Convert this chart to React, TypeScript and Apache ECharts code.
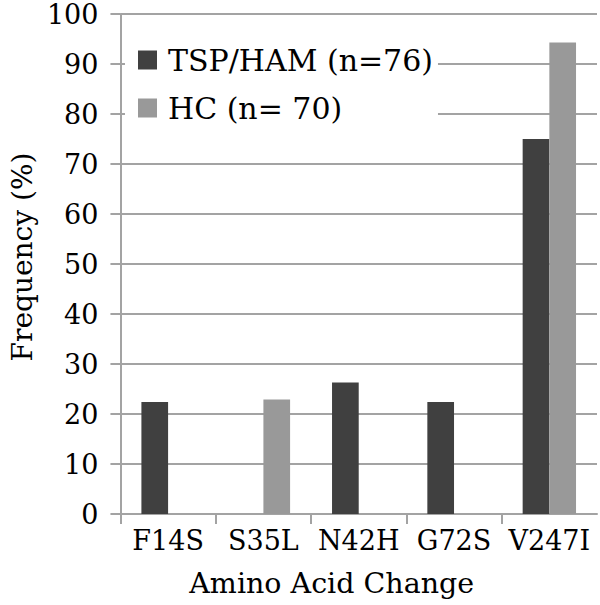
import React, { useEffect, useRef } from "react";
import * as echarts from "echarts";

const categories = ["F14S", "S35L", "N42H", "G72S", "V247I"];
const tspHam = [22.4, 0, 26.3, 22.4, 75.0];
const hc = [0, 22.9, 0, 0, 94.3];
const seriesNames = ["TSP/HAM (n=76)", "HC (n= 70)"];

const FONT = "DejaVu Serif";
const LINE = "#a3a3a3";

export default function App() {
  const ref = useRef<HTMLDivElement>(null);
  useEffect(() => {
    if (!ref.current) return;
    const chart = echarts.init(ref.current, null, { renderer: "svg" });
    chart.setOption({
      animation: false,
      backgroundColor: "#ffffff",
      textStyle: { fontFamily: FONT },
      grid: { left: 112, right: 3, top: 14, bottom: 91, containLabel: false },
      legend: {
        orient: "vertical",
        left: 125,
        top: 35,
        padding: [10, 5, 10, 13],
        backgroundColor: "#ffffff",
        itemWidth: 19,
        itemHeight: 19,
        itemGap: 18,
        icon: "rect",
        textStyle: { fontFamily: FONT, fontSize: 30, color: "#000", padding: [0, 0, 0, 6] },
        data: seriesNames,
      },
      xAxis: {
        type: "category",
        data: categories,
        name: "Amino Acid Change",
        nameLocation: "middle",
        nameGap: 55,
        nameTextStyle: { fontFamily: FONT, fontSize: 28.5, color: "#000", padding: [0, 54, 0, 0] },
        axisLine: { lineStyle: { color: LINE, width: 2 } },
        axisTick: { show: true, length: 10, lineStyle: { color: LINE, width: 2 } },
        axisLabel: { fontFamily: FONT, fontSize: 27, color: "#000", margin: 13, interval: 0 },
      },
      yAxis: {
        type: "value",
        min: 0,
        max: 100,
        interval: 10,
        name: "Frequency (%)",
        nameLocation: "middle",
        nameGap: 80,
        nameTextStyle: { fontFamily: FONT, fontSize: 28, color: "#000", padding: [0, 0, 0, 14] },
        axisLine: { show: true, lineStyle: { color: LINE, width: 2 } },
        axisTick: { show: true, length: 10, lineStyle: { color: LINE, width: 2 } },
        axisLabel: { fontFamily: FONT, fontSize: 27, color: "#000", margin: 22 },
        splitLine: { show: true, lineStyle: { color: LINE, width: 2 } },
      },
      series: [
        {
          name: seriesNames[0],
          type: "bar",
          data: tspHam,
          itemStyle: { color: "#404040" },
          barGap: "0%",
          barCategoryGap: "44%",
        },
        {
          name: seriesNames[1],
          type: "bar",
          data: hc,
          itemStyle: { color: "#999999" },
          barGap: "0%",
          barCategoryGap: "44%",
        },
      ],
    });
    return () => chart.dispose();
  }, []);
  return <div ref={ref} style={{ position: "fixed", left: 0, top: 0, width: 600, height: 605 }} />;
}
